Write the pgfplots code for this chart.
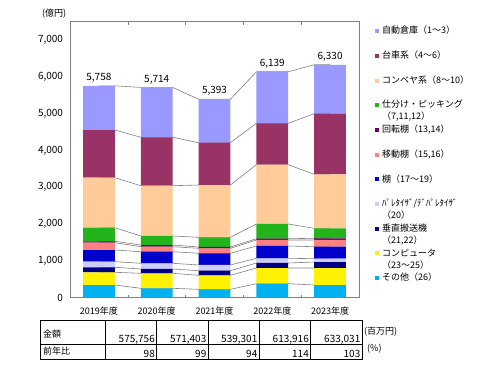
\documentclass[border=0pt]{standalone}
\usepackage{pgfplots}
\pgfplotsset{compat=1.18}
\usepackage{fontspec}
\setmainfont{Noto Sans CJK JP}
\definecolor{cAuto}{HTML}{9999FF}
\definecolor{cCart}{HTML}{993366}
\definecolor{cConv}{HTML}{FFCC99}
\definecolor{cSort}{HTML}{22B41A}
\definecolor{cRot}{HTML}{660066}
\definecolor{cMob}{HTML}{FF8080}
\definecolor{cShelf}{HTML}{0000CC}
\definecolor{cPal}{HTML}{CCCCFF}
\definecolor{cVert}{HTML}{000080}
\definecolor{cComp}{HTML}{FFF200}
\definecolor{cOther}{HTML}{00B0F0}
\definecolor{lcol}{HTML}{808080}
\newcommand{\conn}[5]{\addplot[lcol, line width=0.6bp] coordinates {(0,#1)(0.275,#1)(0.725,#2)(1.275,#2)(1.725,#3)(2.275,#3)(2.725,#4)(3.275,#4)(3.725,#5)(4,#5)};}
\newcommand{\one}[1]{\smash{\hspace{3bp}#1}}
\newcommand{\two}[2]{\smash{\hspace{3bp}\parbox[t]{4cm}{\fontsize{9bp}{12bp}\selectfont #1\\#2}}}
\pgfplotsset{base/.style={scale only axis, width=289bp, height=276bp,
  xmin=-0.5, xmax=4.5, ymin=0, ymax=7500, at={(70bp,77.3bp)}, anchor=south west,
  /pgf/number format/1000 sep={,}, /pgf/number format/assume math mode=true}}
\begin{document}
\begin{tikzpicture}
\useasboundingbox (0,0) rectangle (500bp,375bp);
\fill[white] (0,0) rectangle (500bp,375bp);
\begin{axis}[base, hide axis]
 \conn{345}{255}{228}{380}{345}
 \conn{690}{663}{608}{807}{807}
 \conn{826}{780}{734}{943}{970}
 \conn{980}{935}{889}{1071}{1060}
 \conn{1296}{1250}{1206}{1405}{1386}
 \conn{1495}{1386}{1342}{1568}{1568}
 \conn{1533}{1432}{1378}{1603}{1614}
 \conn{1902}{1677}{1641}{2003}{1886}
 \conn{3261}{3043}{3062}{3614}{3353}
 \conn{4557}{4359}{4212}{4739}{5000}
 \conn{5758}{5714}{5393}{6139}{6330}
 \addplot[only marks, mark=none, nodes near coords, point meta=y,
   nodes near coords style={font=\fontsize{10bp}{12bp}\selectfont, text=black}]
   coordinates {(0,5758)(1,5714)(2,5393)(3,6139)(4,6330)};
\end{axis}
\begin{axis}[base, ybar stacked, bar width=0.55,
  axis line style={lcol, line width=0.8bp},
  tick style={lcol}, major tick length=0pt,
  xtick={0,1,2,3,4}, xticklabels={2019年度,2020年度,2021年度,2022年度,2023年度},
  x tick label style={font=\fontsize{9bp}{10bp}\selectfont, yshift=-6bp},
  extra x ticks={0.5,1.5,2.5,3.5}, extra x tick labels={},
  extra x tick style={major tick length=3bp, tick align=inside},
  ytick={0,1000,...,7000}, scaled y ticks=false,
  y tick label style={font=\fontsize{10bp}{12bp}\selectfont, xshift=-3.5bp},
  reverse legend, legend cell align=left,
  legend style={at={(axis description cs:1,1)}, anchor=north west, xshift=16bp,
    draw=none, fill=none, inner sep=0pt, row sep=0pt,
    nodes={inner sep=0pt}, font=\fontsize{9bp}{12bp}\selectfont},
  legend image code/.code={\path[draw=none,fill=none] (0bp,-12bp) rectangle (4bp,12.7bp);
     \fill[#1,draw=none] (0bp,1.5bp) rectangle (4bp,5.5bp);}
]
 \addplot[fill=cOther, draw=none] coordinates {(0,345)(1,255)(2,228)(3,380)(4,345)};
 \addlegendentry{\one{その他（26）}}
 \addplot[fill=cComp, draw=none] coordinates {(0,345)(1,408)(2,380)(3,427)(4,462)};
 \addlegendentry{\two{コンピュータ}{（23～25）}}
 \addplot[fill=cVert, draw=none] coordinates {(0,136)(1,117)(2,126)(3,136)(4,163)};
 \addlegendentry{\two{垂直搬送機}{（21,22）}}
 \addplot[fill=cPal, draw=none] coordinates {(0,154)(1,155)(2,155)(3,128)(4,90)};
 \addlegendentry{\two{ﾊﾟﾚﾀｲｻﾞ/ﾃﾞﾊﾟﾚﾀｲｻﾞ}{（20）}}
 \addplot[fill=cShelf, draw=none] coordinates {(0,316)(1,315)(2,317)(3,334)(4,326)};
 \addlegendentry{\one{棚（17～19）}}
 \addplot[fill=cMob, draw=none] coordinates {(0,199)(1,136)(2,136)(3,163)(4,182)};
 \addlegendentry{\one{移動棚（15,16）}}
 \addplot[fill=cRot, draw=none] coordinates {(0,38)(1,46)(2,36)(3,35)(4,46)};
 \addlegendentry{\one{回転棚（13,14）}}
 \addplot[fill=cSort, draw=none] coordinates {(0,369)(1,245)(2,263)(3,400)(4,272)};
 \addlegendentry{\two{仕分け・ピッキング}{（7,11,12）}}
 \addplot[fill=cConv, draw=none] coordinates {(0,1359)(1,1366)(2,1421)(3,1611)(4,1467)};
 \addlegendentry{\one{コンベヤ系（8～10）}}
 \addplot[fill=cCart, draw=none] coordinates {(0,1296)(1,1316)(2,1150)(3,1125)(4,1647)};
 \addlegendentry{\one{台車系（4～6）}}
 \addplot[fill=cAuto, draw=none] coordinates {(0,1201)(1,1355)(2,1181)(3,1400)(4,1330)};
 \addlegendentry{\one{自動倉庫（1～3）}}
\end{axis}
\begin{scope}[x=1bp, y=-1bp, shift={(0bp,375bp)}, every node/.style={inner sep=0pt}]
 \draw[line width=0.7bp] (40,320) rectangle (362,359);
 \draw[line width=0.7bp] (40,344) -- (362,344);
 \foreach \x in {105,156.5,208,259,310.5} \draw[line width=0.7bp] (\x,320) -- (\x,359);
 \node[anchor=base west, font=\fontsize{9bp}{10bp}\selectfont] at (43,337.5) {金額};
 \node[anchor=base west, font=\fontsize{9bp}{10bp}\selectfont] at (43,355) {前年比};
 \begin{scope}[every node/.append style={anchor=base east, font=\fontsize{10bp}{12bp}\selectfont}]
  \node at (155,342.5) {575,756};
  \node at (206.5,342.5) {571,403};
  \node at (257.5,342.5) {539,301};
  \node at (309,342.5) {613,916};
  \node at (360.5,342.5) {633,031};
  \node at (155,357.5) {98};
  \node at (206.5,357.5) {99};
  \node at (257.5,357.5) {94};
  \node at (309,357.5) {114};
  \node at (360.5,357.5) {103};
 \end{scope}
 \node[anchor=base west, font=\fontsize{9bp}{10bp}\selectfont] at (364,335) {(百万円)};
 \node[anchor=base west, font=\fontsize{9bp}{10bp}\selectfont] at (367,352) {(\%)};
 \node[anchor=base west, font=\fontsize{9bp}{10bp}\selectfont] at (42,17) {(億円)};
\end{scope}
\end{tikzpicture}
\end{document}
